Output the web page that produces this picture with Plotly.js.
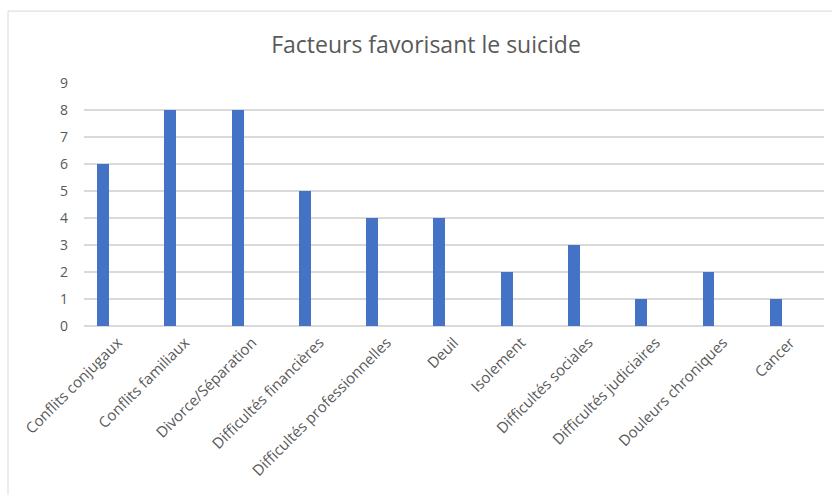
<!DOCTYPE html>
<html>
<head>
<meta charset="utf-8">
<script src="https://cdn.plot.ly/plotly-3.0.1.min.js"></script>
<style>
html,body{margin:0;padding:0;background:#fff;}
#chart{width:832px;height:495px;}
</style>
</head>
<body>
<div id="chart"></div>
<script>
const categories = ["Conflits conjugaux","Conflits familiaux","Divorce/Séparation","Difficultés financières","Difficultés professionnelles","Deuil","Isolement","Difficultés sociales","Difficultés judiciaires","Douleurs chroniques","Cancer"];
const values = [6, 8, 8, 5, 4, 4, 2, 3, 1, 2, 1];
const yTicks = [0,1,2,3,4,5,6,7,8,9];

const trace = {
  type: 'bar',
  x: categories,
  y: values,
  marker: {color: '#4472C4', line: {width: 0}},
  width: 0.178,
  offset: -0.306,
  hoverinfo: 'x+y'
};

const txt = '#595959';
const layout = {
  width: 832, height: 495,
  margin: {l: 84, r: 8, t: 83, b: 169},
  paper_bgcolor: '#fff', plot_bgcolor: '#fff',
  showlegend: false,
  title: {
    text: 'Facteurs favorisant le suicide',
    font: {family: 'Open Sans, sans-serif', size: 23, color: txt},
    x: 0.512, xanchor: 'center', y: 0.91, yanchor: 'middle'
  },
  xaxis: {
    type: 'category',
    range: [-0.5, 10.5],
    tickangle: -45,
    tickfont: {family: 'Open Sans, sans-serif', size: 15, color: txt},
    showgrid: false, showline: false, ticks: '', zeroline: false,
    ticklabelstandoff: 4,
    fixedrange: true
  },
  yaxis: {
    range: [0, 9],
    tickvals: yTicks,
    tickfont: {family: 'Open Sans, sans-serif', size: 14, color: txt},
    showgrid: true, gridcolor: '#d9d9d9', gridwidth: 1.5,
    zeroline: true, zerolinecolor: '#d9d9d9', zerolinewidth: 1.5,
    showline: false, ticks: '', ticklabelstandoff: 15,
    fixedrange: true
  },
  shapes: [
    {type: 'line', xref: 'paper', yref: 'paper', x0: -0.1027, x1: -0.1027, y0: -0.8, y1: 1.296, line: {color: '#d9d9d9', width: 1}},
    {type: 'line', xref: 'paper', yref: 'paper', x0: -0.1027, x1: 1.2, y0: 1.296, y1: 1.296, line: {color: '#d9d9d9', width: 1}}
  ],
  bargap: 0
};

Plotly.newPlot('chart', [trace], layout, {displayModeBar: false, staticPlot: true});
</script>
</body>
</html>
